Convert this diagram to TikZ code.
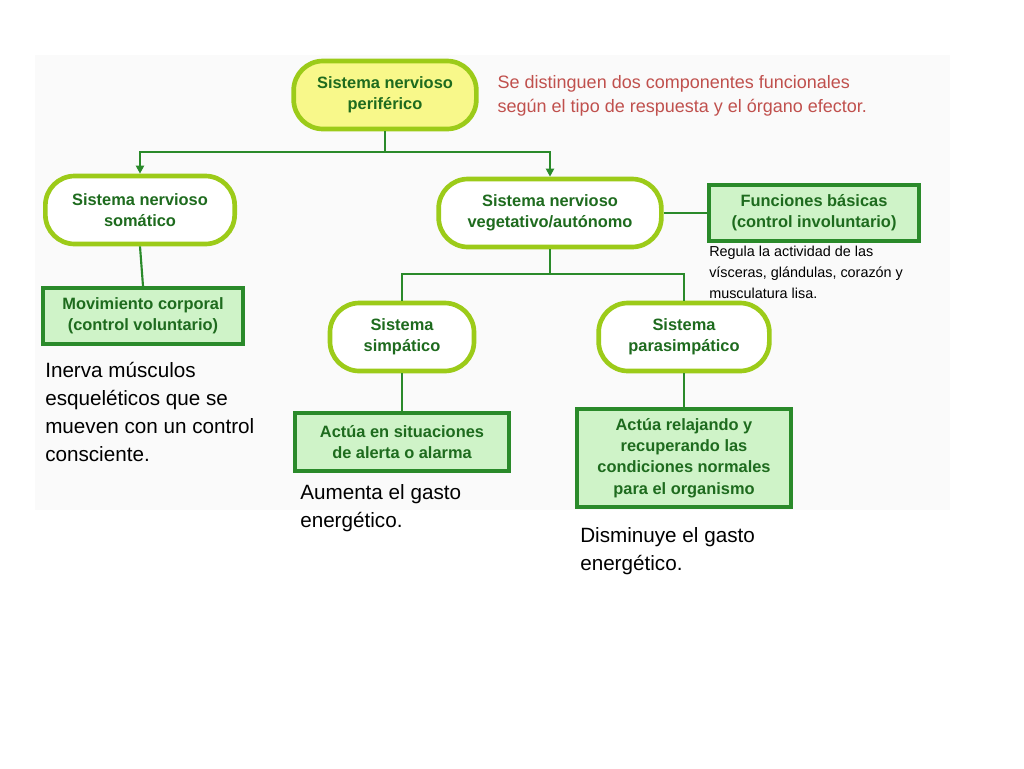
\documentclass[tikz,border=0pt]{standalone}
\usepackage{fontspec}
\setmainfont{Liberation Sans}
\usetikzlibrary{arrows.meta}
\definecolor{lime}{HTML}{9CCB19}
\definecolor{pale}{HTML}{F8F88A}
\definecolor{dgreen}{HTML}{2A8A2A}
\definecolor{tgreen}{HTML}{1E6B1E}
\definecolor{lgreen}{HTML}{CFF3C8}
\definecolor{redt}{HTML}{C0504D}
\begin{document}
\begin{tikzpicture}[x=0.75pt,y=-0.75pt,
  rbox/.style={draw=lime,line width=3.5pt,rounded corners=22pt,fill=white,align=center,font=\fontsize{12.3}{16}\selectfont\bfseries,text=tgreen},
  gbox/.style={draw=dgreen,line width=3pt,fill=lgreen,align=center,font=\fontsize{12.3}{16}\selectfont\bfseries,text=tgreen},
  con/.style={draw=dgreen,line width=1.6pt},
  arr/.style={con,-{Triangle[length=6pt,width=6pt]}},
  body/.style={anchor=north west,align=left,font=\fontsize{15.5}{21}\selectfont,inner sep=0pt},
]
\useasboundingbox (0,0) rectangle (1024,768);
\fill[black!2] (35,55) rectangle (950,510);
\node[rbox,fill=pale,minimum width=137pt,minimum height=51pt] (per) at (385,95) {Sistema nervioso\\periférico};
\node[anchor=west,align=left,text=redt,font=\fontsize{13.5}{18}\selectfont] (red) at (493,96) {Se distinguen dos componentes funcionales\\según el tipo de respuesta y el órgano efector.};
\node[rbox,minimum width=142pt,minimum height=51pt] (som) at (140,210) {Sistema nervioso\\somático};
\node[rbox,minimum width=167pt,minimum height=51pt] (veg) at (550,213) {Sistema nervioso\\vegetativo/autónomo};
\node[gbox,minimum width=157pt,minimum height=42pt] (fun) at (814,213) {Funciones básicas\\(control involuntario)};
\node[anchor=north west,align=left,font=\fontsize{10.8}{15.5}\selectfont,inner sep=0pt] (reg) at (709,246) {Regula la actividad de las\\vísceras, glándulas, corazón y\\musculatura lisa.};
\node[gbox,minimum width=150pt,minimum height=42pt] (mov) at (143,316) {Movimiento corporal\\(control voluntario)};
\node[rbox,minimum width=108pt,minimum height=51pt] (sim) at (402,337) {Sistema\\simpático};
\node[rbox,minimum width=128pt,minimum height=51pt] (par) at (684,337) {Sistema\\parasimpático};
\node[gbox,minimum width=161pt,minimum height=43pt] (ale) at (402,442) {Actúa en situaciones\\de alerta o alarma};
\node[gbox,minimum width=161pt,minimum height=73pt] (rel) at (684,458) {Actúa relajando y\\recuperando las\\condiciones normales\\para el organismo};
\node[body] (inr) at (45,362) {Inerva músculos\\esqueléticos que se\\mueven con un control\\consciente.};
\node[body] (aum) at (300,484) {Aumenta el gasto\\energético.};
\node[body] (dis) at (580,527) {Disminuye el gasto\\energético.};
\coordinate (j1) at (385,152);
\draw[con] (per.south) -- (j1);
\draw[arr] (j1) -| (som.north);
\draw[arr] (j1) -| (veg.north);
\draw[con] (som.south) -- (mov.north);
\draw[con] (veg.east) -- (fun.west);
\coordinate (j2) at (550,274);
\draw[con] (veg.south) -- (j2);
\draw[con] (j2) -| (sim.north);
\draw[con] (j2) -| (par.north);
\draw[con] (sim.south) -- (ale.north);
\draw[con] (par.south) -- (rel.north);
\end{tikzpicture}
\end{document}
